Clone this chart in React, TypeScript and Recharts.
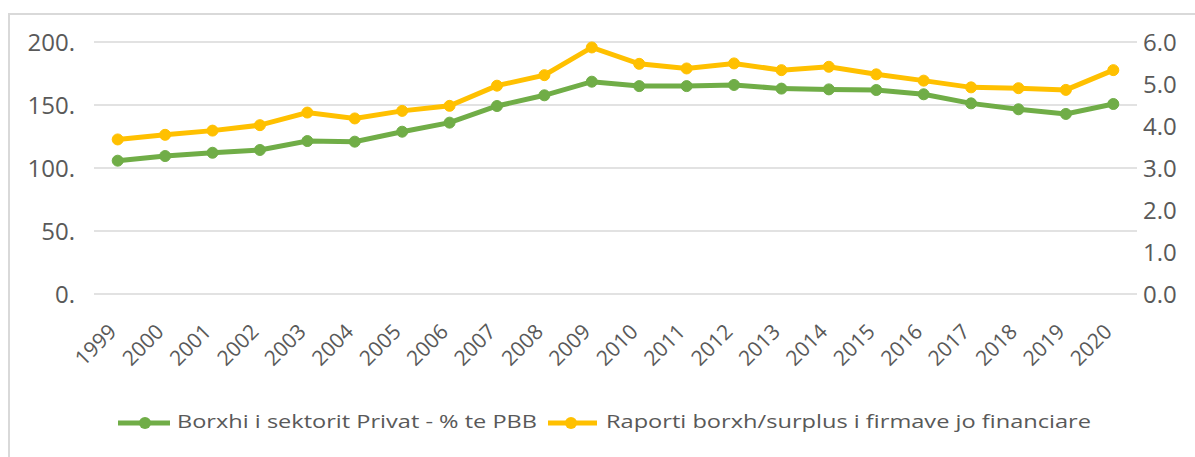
import { LineChart, Line, XAxis, YAxis, CartesianGrid, Legend } from 'recharts';

const years = [
  '1999', '2000', '2001', '2002', '2003', '2004', '2005', '2006', '2007', '2008', '2009',
  '2010', '2011', '2012', '2013', '2014', '2015', '2016', '2017', '2018', '2019', '2020',
];

// Borxhi i sektorit Privat - % te PBB (left axis)
const privateDebt = [
  105.8, 109.5, 112.1, 114.3, 121.4, 120.9, 128.8, 136.0, 149.2, 157.7, 168.5,
  165.0, 165.0, 165.9, 163.0, 162.4, 161.9, 158.5, 151.3, 146.6, 142.9, 150.8,
];

// Raporti borxh/surplus i firmave jo financiare (right axis)
const debtRatio = [
  3.68, 3.79, 3.89, 4.02, 4.32, 4.18, 4.36, 4.48, 4.96, 5.21, 5.87,
  5.48, 5.37, 5.49, 5.33, 5.41, 5.23, 5.08, 4.92, 4.90, 4.86, 5.33,
];

const leftTicks = [0, 50, 100, 150, 200];
const rightTicks = [0, 1, 2, 3, 4, 5, 6];

const seriesNames = ['Borxhi i sektorit Privat - % te PBB', 'Raporti borxh/surplus i firmave jo financiare'];

const GREEN = '#70AD47';
const GOLD = '#FFC000';
const TEXT = '#595959';
const FONT = '"Open Sans", sans-serif';

const data = years.map((year, i) => ({
  year,
  privateDebt: privateDebt[i],
  debtRatio: debtRatio[i],
}));

const YearTick = ({ x, y, payload }: any) => {
  const ax = x;
  const ay = y + 39;
  return (
    <text
      x={ax}
      y={ay}
      transform={`rotate(-45, ${ax}, ${ay})`}
      textAnchor="end"
      fill={TEXT}
      fontSize={21}
      fontFamily={FONT}
    >
      {payload.value}
    </text>
  );
};

const LegendContent = () => (
  <svg width={1195} height={60} style={{ display: 'block' }}>
    <line x1={118} x2={170} y1={26} y2={26} stroke={GREEN} strokeWidth={5} />
    <circle cx={145} cy={26} r={6} fill={GREEN} />
    <text x={177} y={31} fill={TEXT} fontSize={19} fontFamily={FONT} textLength={360} lengthAdjust="spacingAndGlyphs">
      {seriesNames[0]}
    </text>
    <line x1={548} x2={597} y1={26} y2={26} stroke={GOLD} strokeWidth={5} />
    <circle cx={571} cy={26} r={6} fill={GOLD} />
    <text x={606} y={31} fill={TEXT} fontSize={19} fontFamily={FONT} textLength={485} lengthAdjust="spacingAndGlyphs">
      {seriesNames[1]}
    </text>
  </svg>
);

export default function App() {
  return (
    <div style={{ position: 'relative', width: 1195, height: 457, overflow: 'hidden', background: '#fff' }}>
      <style>{'body{margin:0;overflow:hidden}'}</style>
      <div
        style={{
          position: 'absolute',
          left: 8,
          top: 13,
          width: 1300,
          height: 500,
          borderLeft: '2px solid #d9d9d9',
          borderTop: '2px solid #d9d9d9',
        }}
      />
      <LineChart
        width={1195}
        height={457}
        data={data}
        margin={{ top: 42, right: 0, bottom: 0, left: 0 }}
        style={{ position: 'absolute', left: 0, top: 0 }}
      >
        <CartesianGrid yAxisId="left" vertical={false} stroke="#d9d9d9" strokeWidth={1.5} />
        <XAxis
          dataKey="year"
          height={103}
          padding={{ left: 23.7, right: 23.7 }}
          axisLine={false}
          tickLine={false}
          tickSize={0}
          tickMargin={0}
          interval={0}
          tick={<YearTick />}
        />
        <YAxis
          yAxisId="left"
          width={94}
          domain={[0, 200]}
          ticks={leftTicks}
          axisLine={false}
          tickLine={false}
          tickSize={0}
          tickMargin={19}
          tickFormatter={(v: number) => `${v}.`}
          tick={{ fill: TEXT, fontSize: 24, fontFamily: FONT }}
        />
        <YAxis
          yAxisId="right"
          orientation="right"
          width={58}
          domain={[0, 6]}
          ticks={rightTicks}
          axisLine={false}
          tickLine={false}
          tickSize={0}
          tickMargin={6}
          tickFormatter={(v: number) => v.toFixed(1)}
          tick={{ fill: TEXT, fontSize: 24, fontFamily: FONT }}
        />
        <Legend verticalAlign="bottom" content={<LegendContent />} />
        <Line
          yAxisId="left"
          dataKey="privateDebt"
          name={seriesNames[0]}
          stroke={GREEN}
          strokeWidth={5}
          dot={{ r: 5.5, fill: GREEN, stroke: GREEN, strokeWidth: 1 }}
          isAnimationActive={false}
        />
        <Line
          yAxisId="right"
          dataKey="debtRatio"
          name={seriesNames[1]}
          stroke={GOLD}
          strokeWidth={5}
          dot={{ r: 5.5, fill: GOLD, stroke: GOLD, strokeWidth: 1 }}
          isAnimationActive={false}
        />
      </LineChart>
    </div>
  );
}
